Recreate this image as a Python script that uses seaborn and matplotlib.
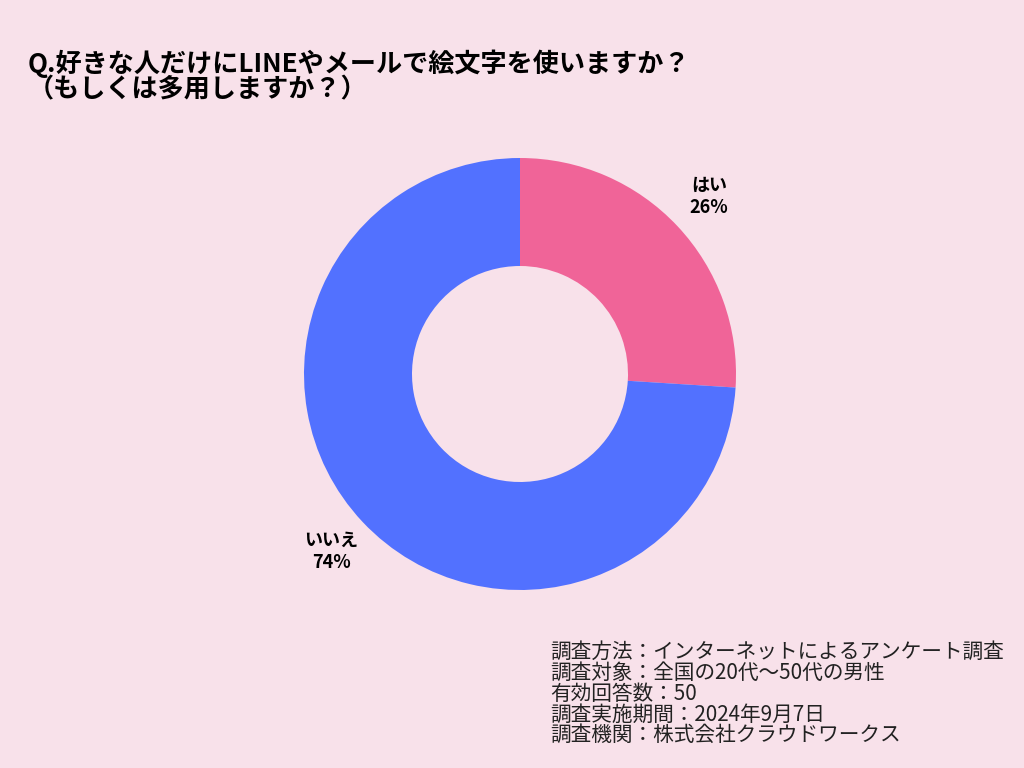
import seaborn as sns
import matplotlib.pyplot as plt

# データ
labels = ["はい", "いいえ"]
values = [26, 74]
colors = ["#F06498", "#5271FF"]

title = "Q.好きな人だけにLINEやメールで絵文字を使いますか？\n（もしくは多用しますか？）"
notes = [
    "調査方法：インターネットによるアンケート調査",
    "調査対象：全国の20代～50代の男性",
    "有効回答数：50",
    "調査実施期間：2024年9月7日",
    "調査機関：株式会社クラウドワークス",
]

bg = "#F8E1EA"
sns.set_theme(style="white")
plt.rcParams['font.family'] = ['Noto Sans CJK JP', 'DejaVu Sans']

fig = plt.figure(figsize=(10.24, 7.68), dpi=100, facecolor=bg)
ax = fig.add_axes([0.2, 0.2, 0.6, 0.6])
ax.set_facecolor(bg)

pie_labels = [f"{l}\n{v}%" for l, v in zip(labels, values)]
wedges, texts = ax.pie(values, labels=pie_labels, colors=colors, startangle=90,
                       counterclock=False, labeldistance=1.2,
                       wedgeprops={'width': 0.5, 'linewidth': 0},
                       textprops={'fontsize': 13, 'fontweight': 'bold',
                                  'color': 'black', 'ha': 'center',
                                  'va': 'center', 'linespacing': 1.25})
ax.set_aspect('equal')
ax.set_xlim(-1.5, 1.5)
ax.set_ylim(-1.5, 1.5)
# ドーナツの位置と大きさ (中心 520,374 / 半径 216px)
ax.set_position([(520 - 324) / 1024, 1 - (374 + 324) / 768, 648 / 1024, 648 / 768])

fig.text(28 / 1024, 1 - 50 / 768, title, fontsize=18.8, fontweight='bold',
         ha='left', va='top', linespacing=0.92, color='black')

fig.text(550 / 1024, 1 - 641 / 768, "\n".join(notes), fontsize=14.9,
         ha='left', va='top', linespacing=0.93, color='#222222')

plt.savefig("out.png", dpi=100, facecolor=bg)
